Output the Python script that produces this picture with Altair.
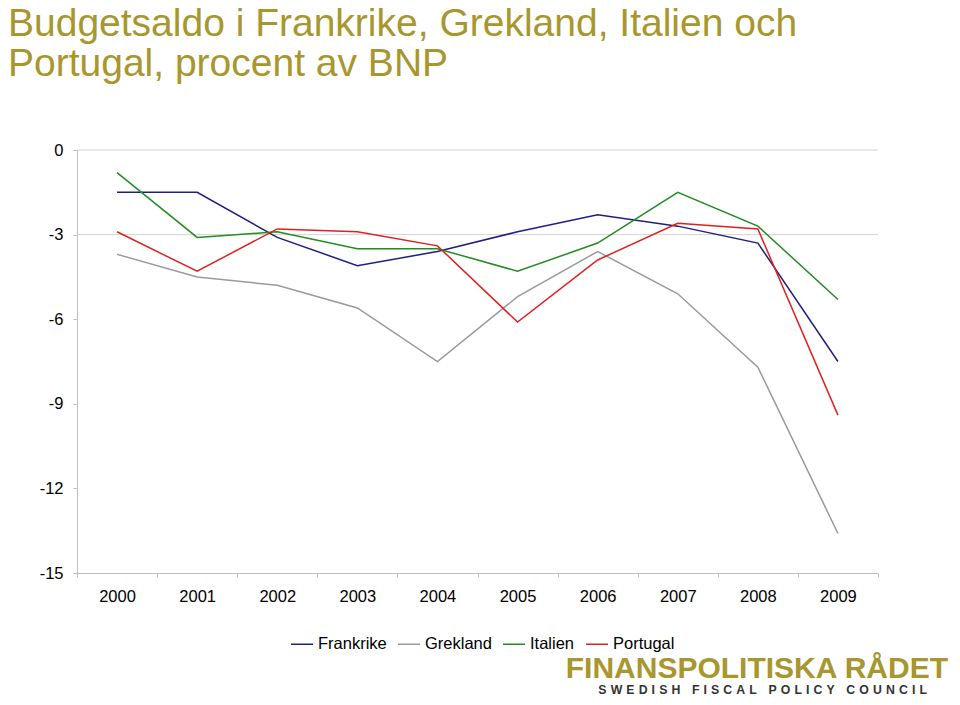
import altair as alt
import pandas as pd

YEARS = ["2000", "2001", "2002", "2003", "2004", "2005", "2006", "2007", "2008", "2009"]
SERIES = ["Frankrike", "Grekland", "Italien", "Portugal"]
FRANKRIKE = [-1.5, -1.5, -3.1, -4.1, -3.6, -2.9, -2.3, -2.7, -3.3, -7.5]
GREKLAND = [-3.7, -4.5, -4.8, -5.6, -7.5, -5.2, -3.6, -5.1, -7.7, -13.6]
ITALIEN = [-0.8, -3.1, -2.9, -3.5, -3.5, -4.3, -3.3, -1.5, -2.7, -5.3]
PORTUGAL = [-2.9, -4.3, -2.8, -2.9, -3.4, -6.1, -3.9, -2.6, -2.8, -9.4]
COLORS = ["#1F1F80", "#9A9A9A", "#228B22", "#E02020"]
Y_TICKS = [0, -3, -6, -9, -12, -15]
GRID_VALUES = [0, -3]
TITLE_LINES = ["Budgetsaldo i Frankrike, Grekland, Italien och", "Portugal, procent av BNP"]
LOGO = "FINANSPOLITISKA RÅDET"
SUBTITLE_WORDS = ["SWEDISH", "FISCAL", "POLICY", "COUNCIL"]

FONT = "Liberation Sans"
OLIVE = "#A8962E"

rows = []
for name, vals in zip(SERIES, [FRANKRIKE, GREKLAND, ITALIEN, PORTUGAL]):
    for yr, v in zip(YEARS, vals):
        rows.append({"year": yr, "series": name, "value": v})
df = pd.DataFrame(rows)

sep = "\u2004"
subtitle = (sep + " " + sep).join(sep.join(list(w)) for w in SUBTITLE_WORDS)

x_enc = alt.X(
    "year:O",
    sort=YEARS,
    scale=alt.Scale(domain=YEARS, paddingInner=0, paddingOuter=0),
    axis=alt.Axis(
        title=None, labelAngle=0, tickBand="extent", tickSize=4, labelPadding=11,
        labelFontSize=16.5, labelFont=FONT, labelColor="#000000",
        domainColor="#BFBFBF", tickColor="#BFBFBF", grid=False,
    ),
)
y_scale = alt.Scale(domain=[-15, 0], nice=False, zero=False)
y_axis = alt.Axis(
    title=None, values=Y_TICKS, tickSize=4, labelPadding=10,
    labelExpr="'' + datum.value",
    labelFontSize=16.5, labelFont=FONT, labelColor="#000000",
    domainColor="#BFBFBF", tickColor="#BFBFBF", grid=False,
)

grid = alt.Chart(pd.DataFrame({"g": GRID_VALUES})).mark_rule(
    color="#D3D3D3", strokeWidth=1
).encode(y=alt.Y("g:Q", scale=y_scale, axis=y_axis))

lines = alt.Chart(df).mark_line(strokeWidth=1.5).encode(
    x=x_enc,
    y=alt.Y("value:Q", scale=y_scale, axis=y_axis),
    color=alt.Color(
        "series:N",
        sort=SERIES,
        scale=alt.Scale(domain=SERIES, range=COLORS),
        legend=alt.Legend(
            title=None, orient="none", legendX=213, legendY=482, direction="horizontal",
            symbolType="stroke", symbolSize=484, symbolStrokeWidth=1.5,
            labelFontSize=16.5, labelFont=FONT, labelColor="#000000",
            labelOffset=4, columnPadding=8, padding=0,
        ),
    ),
    detail="series:N",
)

def text_layer(txt, x, y, size, color, align="left", bold=False):
    return alt.Chart(pd.DataFrame({"t": [txt]})).mark_text(
        align=align, baseline="alphabetic", fontSize=size, font=FONT,
        color=color, fontWeight="bold" if bold else "normal",
    ).encode(text="t:N", x=alt.value(x), y=alt.value(y))

title1 = text_layer(TITLE_LINES[0], -69, -114, 39, OLIVE)
title2 = text_layer(TITLE_LINES[1], -69, -74, 39, OLIVE)
logo = text_layer(LOGO, 871, 528, 30, OLIVE, align="right", bold=True)
sub = text_layer(subtitle, 850, 544, 12.3, "#333333", align="right", bold=True)

chart = alt.layer(grid, lines, title1, title2, logo, sub).properties(
    width=801,
    height=423,
    background="#FFFFFF",
    autosize=alt.AutoSizeParams(type="none"),
    padding={"left": 69, "top": 142, "right": 74, "bottom": 124},
).configure_view(stroke="transparent")

chart.save("out.html", embed_options={"renderer": "svg", "actions": False})
